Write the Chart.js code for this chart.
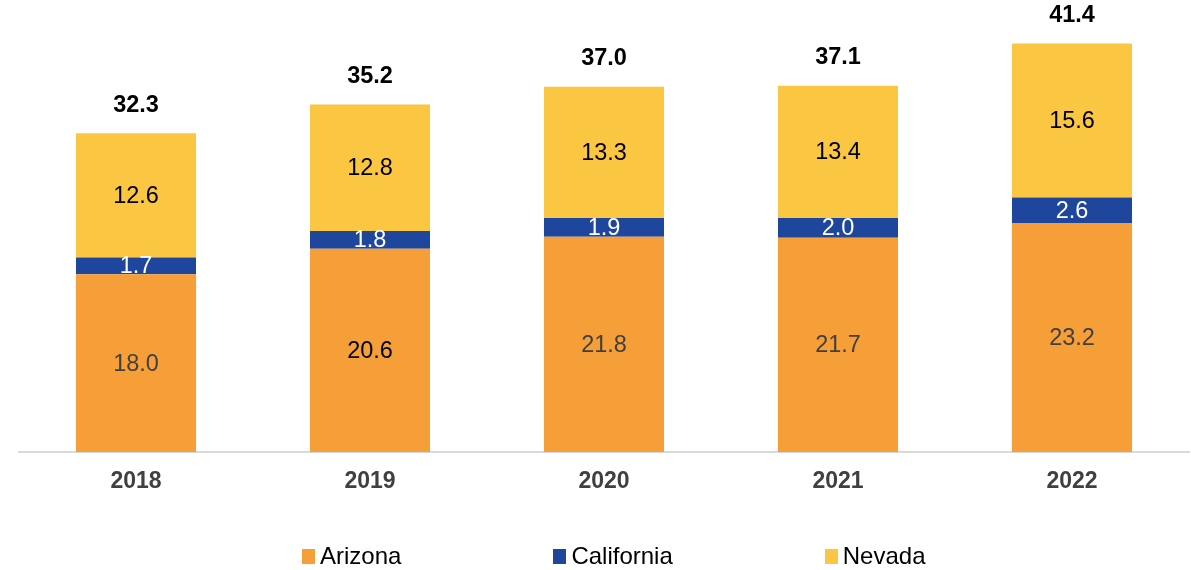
<!DOCTYPE html>
<html>
<head>
<meta charset="utf-8">
<script src="https://cdn.jsdelivr.net/npm/chart.js@4.4.1/dist/chart.umd.min.js"></script>
<style>
  html, body { margin: 0; padding: 0; background: #fff; }
  #wrap { position: relative; width: 1191px; height: 570px; }
  #legend { position: absolute; left: 302px; top: 542px; display: flex; gap: 152px;
            font-family: "Liberation Sans", Arial, sans-serif; font-size: 24px; color: #000; }
  .item { display: flex; align-items: center; }
  .box { width: 13px; height: 15px; margin-right: 5px; }
</style>
</head>
<body>
<div id="wrap">
  <canvas id="c" width="1191" height="570"></canvas>
  <div id="legend"></div>
</div>
<script>
const categories = ['2018', '2019', '2020', '2021', '2022'];
const arizona    = [18.0, 20.6, 21.8, 21.7, 23.2];
const california = [1.7, 1.8, 1.9, 2.0, 2.6];
const nevada     = [12.6, 12.8, 13.3, 13.4, 15.6];
const totals     = [32.3, 35.2, 37.0, 37.1, 41.4];

const FONT = '"Liberation Sans", Arial, sans-serif';
const arizonaLabelColors = ['#404040', '#000000', '#404040', '#404040', '#404040'];

const labelPlugin = {
  id: 'segLabels',
  afterDatasetsDraw(chart) {
    const ctx = chart.ctx;
    ctx.save();
    ctx.textAlign = 'center';
    ctx.textBaseline = 'middle';
    chart.data.datasets.forEach((ds, di) => {
      const meta = chart.getDatasetMeta(di);
      meta.data.forEach((bar, i) => {
        const y = (bar.y + bar.base) / 2;
        ctx.font = '23.5px ' + FONT;
        ctx.fillStyle = ds.labelColors ? ds.labelColors[i] : ds.labelColor;
        ctx.fillText(ds.data[i].toFixed(1), bar.x, y + 1);
      });
    });
    const topMeta = chart.getDatasetMeta(chart.data.datasets.length - 1);
    ctx.font = 'bold 23.5px ' + FONT;
    ctx.fillStyle = '#000000';
    topMeta.data.forEach((bar, i) => {
      ctx.fillText(totals[i].toFixed(1), bar.x, bar.y - 28);
    });
    ctx.restore();
  }
};

const chart = new Chart(document.getElementById('c'), {
  type: 'bar',
  data: {
    labels: categories,
    datasets: [
      { label: 'Arizona', data: arizona, backgroundColor: '#F69E37', labelColors: arizonaLabelColors },
      { label: 'California', data: california, backgroundColor: '#1D469C', labelColor: '#FFFFFF' },
      { label: 'Nevada', data: nevada, backgroundColor: '#FBC641', labelColor: '#000000' }
    ]
  },
  options: {
    responsive: false,
    animation: false,
    layout: { padding: { left: 19, right: 2, top: 0, bottom: 0 } },
    datasets: { bar: { categoryPercentage: 1.0, barPercentage: 0.513, borderWidth: 0 } },
    plugins: { legend: { display: false }, tooltip: { enabled: false } },
    scales: {
      x: {
        stacked: true,
        grid: { display: false, drawTicks: false },
        border: { display: true, color: '#D9D9D9', width: 2 },
        ticks: { color: '#404040', font: { family: FONT, size: 23, weight: 'bold' }, padding: 16 },
        afterFit(scale) { scale.height = 118; }
      },
      y: {
        stacked: true,
        display: false,
        min: 0,
        max: 45.8
      }
    }
  },
  plugins: [labelPlugin]
});

const legendEl = document.getElementById('legend');
chart.data.datasets.forEach(ds => {
  const item = document.createElement('div');
  item.className = 'item';
  const box = document.createElement('span');
  box.className = 'box';
  box.style.background = ds.backgroundColor;
  const txt = document.createElement('span');
  txt.textContent = ds.label;
  item.appendChild(box);
  item.appendChild(txt);
  legendEl.appendChild(item);
});
</script>
</body>
</html>
